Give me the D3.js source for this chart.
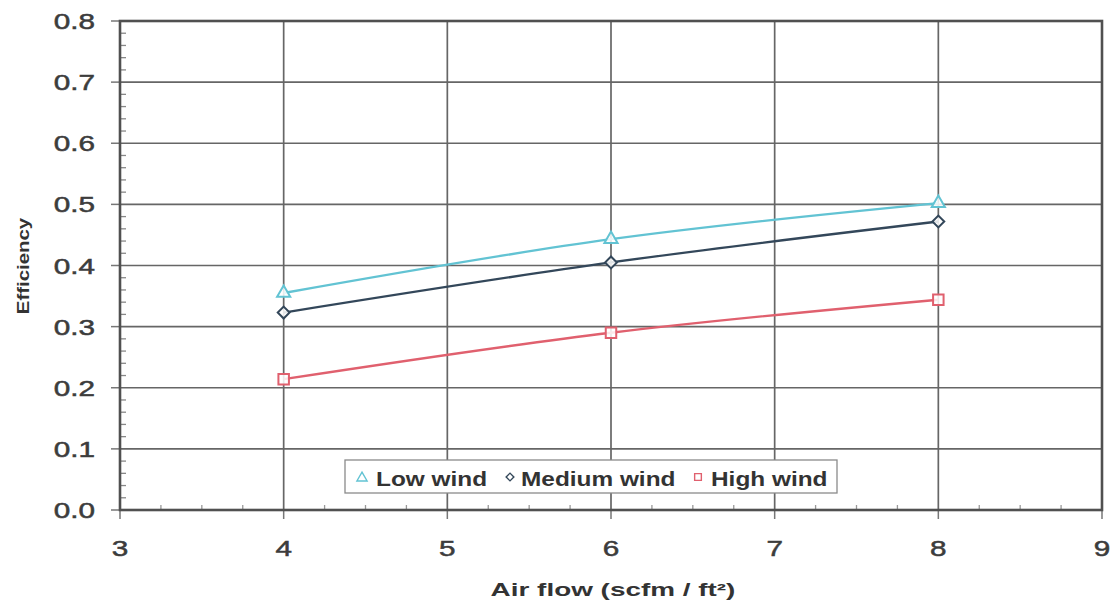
<!DOCTYPE html>
<html><head><meta charset="utf-8">
<script src="https://cdn.jsdelivr.net/npm/d3@7/dist/d3.min.js"></script>
<style>
html,body{margin:0;padding:0;background:#fff;}
svg{display:block;}
text{font-family:"Liberation Sans",Arial,sans-serif;}
</style></head>
<body>
<svg id="chart" width="1115" height="604"></svg>
<script>
// ---- data ----
const airFlow = [4, 6, 8];
const lowWind = [0.355, 0.443, 0.502];
const mediumWind = [0.323, 0.405, 0.472];
const highWind = [0.214, 0.290, 0.344];
const seriesNames = ["Low wind", "Medium wind", "High wind"];
const xTicks = [3, 4, 5, 6, 7, 8, 9];
const yTicks = [0, 0.1, 0.2, 0.3, 0.4, 0.5, 0.6, 0.7, 0.8];
const xTitle = "Air flow (scfm / ft\u00B2)";
const yTitle = "Efficiency";

// ---- layout ----
const svg = d3.select("#chart");
const L = 120, R = 1102, T = 21, B = 510;
const x = d3.scaleLinear().domain([3, 9]).range([L, R]);
const y = d3.scaleLinear().domain([0, 0.8]).range([B, T]);
const SX = 1.4;

const colors = ["#62c3d3", "#33475a", "#e0606e"];
const shapes = [d3.symbolTriangle, d3.symbolSquare, d3.symbolSquare];
const rot = [0, 45, 0];
const mSize = [75, 70, 110];
const seriesData = [lowWind, mediumWind, highWind];

function stext(g, tx, ty, str, opts) {
  const t = g.append("text")
    .attr("transform", `translate(${tx},${ty}) ${opts.rotate ? "rotate(" + opts.rotate + ")" : ""} scale(${opts.sx || SX},1)`)
    .attr("text-anchor", opts.anchor || "middle")
    .attr("font-size", opts.size)
    .attr("font-weight", opts.weight || "normal")
    .attr("fill", opts.fill || "#3a3a3a")
    .text(str);
  if (opts.stroke) t.attr("stroke", opts.fill || "#3a3a3a").attr("stroke-width", opts.stroke);
  return t;
}

// gridlines
const grid = svg.append("g");
grid.selectAll(".hg").data(yTicks.filter(d => d > 0 && d < 0.8)).join("line")
  .attr("x1", L).attr("x2", R).attr("y1", d => y(d)).attr("y2", d => y(d))
  .attr("stroke", "#666").attr("stroke-width", 1.7);
grid.selectAll(".vg").data(xTicks.filter(d => d > 3 && d < 9)).join("line")
  .attr("y1", T).attr("y2", B).attr("x1", d => x(d)).attr("x2", d => x(d))
  .attr("stroke", "#666").attr("stroke-width", 1.7);

// minor ticks
const yMinor = d3.range(0, 0.8001, 0.02).filter(v => Math.abs(v * 10 - Math.round(v * 10)) > 1e-6);
grid.selectAll(".ym").data(yMinor).join("line")
  .attr("x1", L).attr("x2", L + 6).attr("y1", d => y(d)).attr("y2", d => y(d))
  .attr("stroke", "#888").attr("stroke-width", 1.3);
const xMinor = d3.range(3, 9.0001, 0.25).filter(v => Math.abs(v - Math.round(v)) > 1e-6);
grid.selectAll(".xm").data(xMinor).join("line")
  .attr("x1", d => x(d)).attr("x2", d => x(d)).attr("y1", B).attr("y2", B - 5)
  .attr("stroke", "#999").attr("stroke-width", 1.3);

// major outer ticks
grid.selectAll(".yM").data(yTicks).join("line")
  .attr("x1", L - 9).attr("x2", L).attr("y1", d => y(d)).attr("y2", d => y(d))
  .attr("stroke", "#777").attr("stroke-width", 1.5);
grid.selectAll(".xM").data(xTicks).join("line")
  .attr("x1", d => x(d)).attr("x2", d => x(d)).attr("y1", B).attr("y2", B + 9)
  .attr("stroke", "#777").attr("stroke-width", 1.5);

// frame
svg.append("rect").attr("x", L).attr("y", T).attr("width", R - L).attr("height", B - T)
  .attr("fill", "none").attr("stroke", "#505050").attr("stroke-width", 2.6);

// tick labels
const labels = svg.append("g");
yTicks.forEach(v => stext(labels, 95, y(v) + 8, d3.format(".1f")(v), {anchor: "end", size: 22, sx: 1.35, fill: "#3c3c3c", stroke: 0.5}));
xTicks.forEach(v => stext(labels, x(v), 556, String(v), {size: 22, sx: 1.35, fill: "#3c3c3c", stroke: 0.5}));

// axis titles
stext(labels, 29, 266, yTitle, {rotate: -90, size: 17, weight: "bold", sx: 1.2, fill: "#333"});
stext(labels, 613, 596, xTitle, {size: 18, weight: "bold", sx: 1.55, fill: "#333"});

// lines
const line = d3.line().x(d => x(d[0])).y(d => y(d[1])).curve(d3.curveCatmullRom.alpha(0.5));
seriesData.forEach((vals, i) => {
  const pts = airFlow.map((a, j) => [a, vals[j]]);
  svg.append("path").datum(pts).attr("d", line)
    .attr("fill", "none").attr("stroke", colors[i]).attr("stroke-width", 2.3);
});
// markers
seriesData.forEach((vals, i) => {
  const sym = d3.symbol().type(shapes[i]).size(mSize[i]);
  svg.append("g").selectAll("path").data(airFlow.map((a, j) => [a, vals[j]])).join("path")
    .attr("d", sym)
    .attr("transform", d => `translate(${x(d[0])},${y(d[1])}) rotate(${rot[i]})`)
    .attr("fill", "#fff").attr("fill-opacity", 0.85)
    .attr("stroke", colors[i]).attr("stroke-width", 2);
});

// legend
const lg = svg.append("g");
lg.append("rect").attr("x", 345).attr("y", 460).attr("width", 492).attr("height", 33)
  .attr("fill", "#fff").attr("stroke", "#8a8a8a").attr("stroke-width", 1.3);
const legendPos = [{mx: 362, tx: 376}, {mx: 510, tx: 521}, {mx: 698, tx: 711}];
seriesNames.forEach((name, i) => {
  lg.append("path").attr("d", d3.symbol().type(shapes[i]).size(i === 1 ? 30 : 45)())
    .attr("transform", `translate(${legendPos[i].mx},${i === 0 ? 478 : 477}) rotate(${rot[i]})`)
    .attr("fill", "#fff").attr("stroke", colors[i]).attr("stroke-width", 1.4);
  stext(lg, legendPos[i].tx, 485.5, name, {anchor: "start", size: 20, weight: "bold", sx: 1.22, fill: "#333"});
});
</script>
</body></html>
